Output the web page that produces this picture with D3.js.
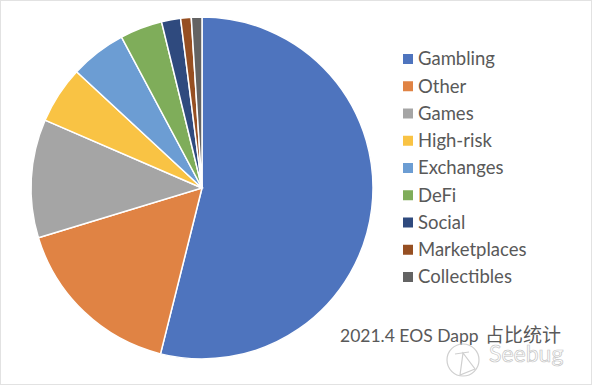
<!DOCTYPE html>
<html>
<head>
<meta charset="utf-8">
<script src="https://d3js.org/d3.v7.min.js"></script>
<style>
  html, body { margin: 0; padding: 0; background: #fff; }
  svg { display: block; }
  text { font-family: Lato, "Noto Sans CJK SC", sans-serif; fill: #595959; }
</style>
</head>
<body>
<svg class="chart" width="592" height="385"></svg>
<script>
var categories = ["Gambling", "Other", "Games", "High-risk", "Exchanges", "DeFi", "Social", "Marketplaces", "Collectibles"];
var values = [53.9, 16.4, 11.2, 5.4, 5.3, 4.0, 1.8, 1.0, 1.0];
var colors = ["#4e74be", "#e08344", "#a5a5a5", "#f9c344", "#6c9dd3", "#7fad5a", "#2f4a7e", "#964f22", "#636363"];
var titleLatin = "2021.4 EOS Dapp";
var titleCjk = "占比统计";

var width = 592, height = 385;
var cx = 202, cy = 188, radius = 171;

var svg = d3.select(".chart");

// screenshot frame
svg.append("rect")
    .attr("x", 0.5).attr("y", 0.5)
    .attr("width", width - 1).attr("height", height - 1)
    .attr("fill", "#fff")
    .attr("stroke", "#e2e2e2");

var color = d3.scaleOrdinal().domain(categories).range(colors);

var pie = d3.pie().sort(null).value(function(d, i) { return d; });
var arc = d3.arc().innerRadius(0).outerRadius(radius);

svg.append("g")
    .attr("transform", "translate(" + cx + "," + cy + ")")
  .selectAll("path")
    .data(pie(values))
  .enter().append("path")
    .attr("d", arc)
    .attr("fill", function(d, i) { return color(categories[i]); })
    .attr("stroke", "#fff")
    .attr("stroke-width", 1.5);

// legend
var rowY = d3.scalePoint().domain(categories).range([59, 277]);

var legend = svg.selectAll("g.legend")
    .data(categories)
  .enter().append("g")
    .attr("class", "legend")
    .attr("transform", function(d) { return "translate(403," + rowY(d) + ")"; });

legend.append("rect")
    .attr("y", -5)
    .attr("width", 10)
    .attr("height", 10)
    .attr("fill", function(d) { return color(d); });

legend.append("text")
    .attr("x", 15)
    .attr("dy", ".35em")
    .style("font-size", "18.5px")
    .text(function(d) { return d; });

// title, latin and chinese parts have different widths in the original
var titleText = svg.append("text")
    .attr("x", 340)
    .attr("y", 342);
titleText.append("tspan")
    .style("font-size", "17.5px")
    .text(titleLatin);
titleText.append("tspan")
    .attr("x", 485)
    .style("font-size", "19px")
    .text(titleCjk);

// watermark
var mark = svg.append("g").attr("fill", "none").attr("stroke", "#cfcfcf").attr("stroke-width", 1.2);
mark.append("circle").attr("cx", 463).attr("cy", 360).attr("r", 16);
mark.append("path").attr("d", "M455 354L469 352M463 353L460 375L475 369Z");

svg.append("text")
    .attr("x", 489)
    .attr("y", 362)
    .style("font-size", "23px")
    .style("fill", "#fff")
    .style("stroke", "#c4c4c4")
    .style("stroke-width", "0.7px")
    .text("Seebug");
</script>
</body>
</html>
